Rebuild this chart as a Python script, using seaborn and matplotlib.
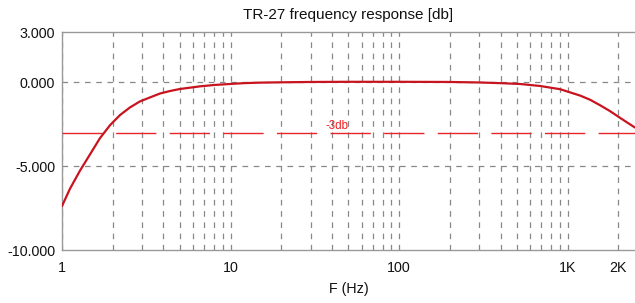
import matplotlib
matplotlib.use("Agg")
import matplotlib.pyplot as plt
import seaborn as sns
import pandas as pd
from matplotlib.ticker import FixedLocator, NullFormatter

# ---- data ----
freq_hz = [1, 1.116, 1.28, 1.47, 1.68, 1.93, 2.21, 2.53, 2.9, 3.33, 3.81, 4.37,
           5.0, 6.6, 8.0, 9.9, 12, 14.9, 20, 30, 50, 100, 200, 300, 400,
           523, 687, 902, 1186, 1360, 1560, 1787, 2049, 2349, 2514]
response_db = [-7.38, -6.34, -5.26, -4.28, -3.33, -2.55, -1.95, -1.5, -1.14, -0.9,
               -0.67, -0.52, -0.4, -0.24, -0.16, -0.1, -0.05, -0.02, 0.0, 0.02,
               0.03, 0.03, 0.02, -0.01, -0.05,
               -0.1, -0.22, -0.41, -0.79, -1.04, -1.37, -1.72, -2.12, -2.51, -2.7]
ref_level_db = -3
ref_label = "-3db"
major_ticks = [1, 10, 100, 1000, 2000]
major_labels = ["1", "10", "100", "1K", "2K"]
y_ticks = [-10, -5, 0, 3]
y_labels = ["-10.000", "-5.000", "0.000", "3.000"]
title = "TR-27 frequency response [db]"
x_label = "F (Hz)"

sns.set_style("white")
plt.rcParams["font.family"] = ["Liberation Sans", "DejaVu Sans"]

fig = plt.figure(figsize=(6.35, 3.03), dpi=100)
ax = fig.add_axes([62 / 635, 1 - 250 / 303, 1 - 62 / 635, (250 - 32) / 303])

df = pd.DataFrame({"f": freq_hz, "db": response_db})
sns.lineplot(data=df, x="f", y="db", ax=ax, color="#c8141e", linewidth=1.6,
             zorder=5, solid_joinstyle="round", solid_capstyle="round")

ax.set_xscale("log")
ax.set_xlim(1, 2512)
ax.set_ylim(-10, 3)

minor = [m * 10 ** k for k in range(0, 4) for m in range(2, 10) if m * 10 ** k < 2500]
minor = [v for v in minor if v not in major_ticks]
ax.xaxis.set_major_locator(FixedLocator(major_ticks))
ax.set_xticklabels(major_labels)
ax.xaxis.set_minor_locator(FixedLocator(minor))
ax.xaxis.set_minor_formatter(NullFormatter())
ax.set_yticks(y_ticks)
ax.set_yticklabels(y_labels)

grid_kw = dict(color="#888888", linewidth=0.9, linestyle=(0, (4.5, 4.5)))
ax.grid(True, which="both", axis="x", **grid_kw)
for yv in [0, -5]:
    ax.axhline(yv, zorder=1, **grid_kw)

ax.axhline(ref_level_db, color="#e8262a", linewidth=1.0,
           linestyle=(0, (29, 9.6)), zorder=3)
ax.text(43, ref_level_db + 0.02, ref_label, color="#f01e1e", fontsize=8.3,
        ha="center", va="bottom", zorder=4)

for s in ["left", "bottom", "top"]:
    ax.spines[s].set_color("#999999")
    ax.spines[s].set_linewidth(1.0)
ax.spines["right"].set_visible(False)

ax.tick_params(axis="both", which="both", length=0, labelsize=10.3, colors="#111111")
ax.tick_params(axis="x", pad=8)
ax.tick_params(axis="y", pad=5)

ax.set_xlabel(x_label, fontsize=10.3, labelpad=5, color="#111111")
ax.set_ylabel("")
ax.set_title(title, fontsize=11, pad=9, color="#111111", fontweight="medium")

fig.savefig("out.png", dpi=100)
